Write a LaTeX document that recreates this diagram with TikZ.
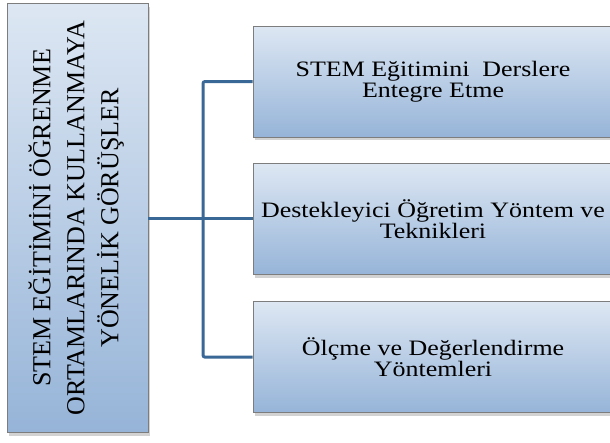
\documentclass[tikz,border=0pt]{standalone}
\usepackage{fontspec}
\setmainfont{Liberation Serif}
\newfontfamily\widefont[FakeStretch=1.18]{Liberation Serif}
\usetikzlibrary{positioning,shadows}
\definecolor{paleblue}{RGB}{221,231,243}
\definecolor{midblue}{RGB}{150,180,216}
\definecolor{steel}{RGB}{58,104,150}
\definecolor{rim}{RGB}{125,125,125}
\tikzset{
  topic/.style={draw=rim,top color=paleblue,bottom color=midblue,line width=0.8pt,
    minimum width=360pt,minimum height=111pt,inner sep=0pt,align=center,
    font=\widefont\fontsize{22}{21}\selectfont,
    drop shadow={shadow xshift=2pt,shadow yshift=-3pt,opacity=0.35}},
  theme/.style={draw=rim,top color=paleblue,bottom color=midblue,line width=0.8pt,
    minimum width=141pt,minimum height=429pt,inner sep=0pt,
    font=\fontsize{26}{34}\selectfont,
    drop shadow={shadow xshift=2pt,shadow yshift=-3pt,opacity=0.35}},
  link/.style={draw=steel,line width=3pt,rounded corners=2pt},
}
\begin{document}
\begin{tikzpicture}[x=1pt,y=-1pt]
  \fill[white] (0,0) rectangle (610,442);
  \clip (0,0) rectangle (610,442);
  % main theme
  \node[theme] (views) at (77.5,218) {\rotatebox{90}{\begin{tabular}{@{}c@{}}
    STEM EĞİTİMİNİ ÖĞRENME\\ORTAMLARINDA KULLANMAYA\\YÖNELİK GÖRÜŞLER\end{tabular}}};
  % sub themes
  \node[topic] (integrate) at (433,81.5) {STEM Eğitimini\ \ Derslere\\Entegre Etme};
  \node[topic,below=26pt of integrate] (methods) {Destekleyici Öğretim Yöntem ve\\Teknikleri};
  \node[topic,below=26pt of methods] (assess) {Ölçme ve Değerlendirme\\Yöntemleri};
  \coordinate (fork) at (203,218);
  \draw[link] (integrate.west) -| (fork |- assess.west) -- (assess.west);
  \draw[link] (views.east) -- (views.east -| methods.west);
\end{tikzpicture}
\end{document}
